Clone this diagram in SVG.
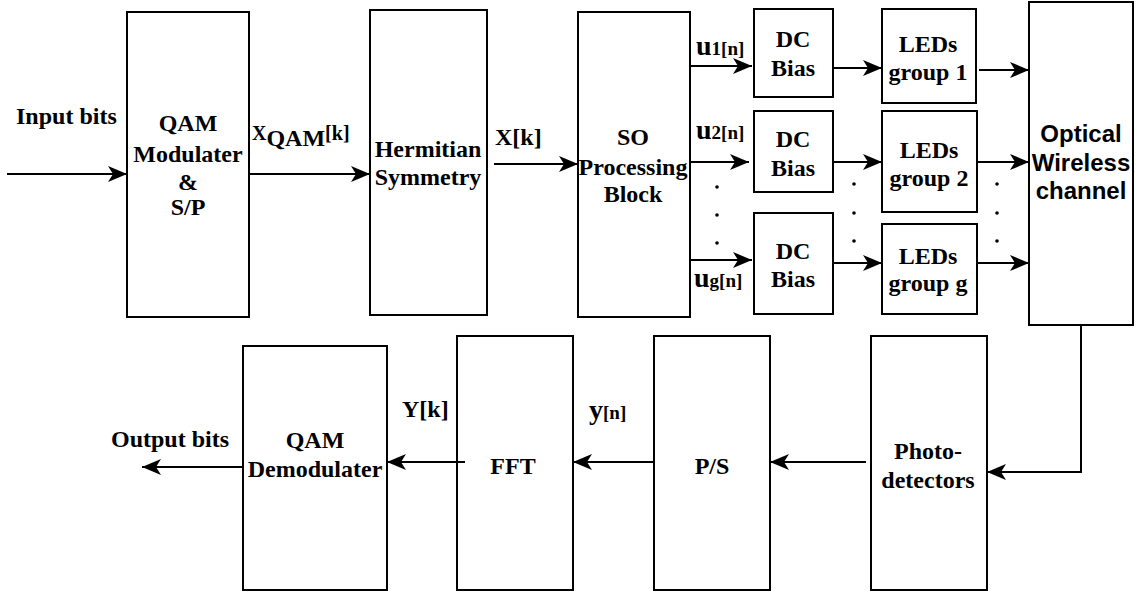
<svg xmlns="http://www.w3.org/2000/svg" width="1137" height="593" viewBox="0 0 1137 593">
<style>
.box{fill:#fff;stroke:#000;stroke-width:2}
.ln{fill:none;stroke:#000;stroke-width:2}
.t{font-family:"Liberation Serif","Times New Roman",serif;font-weight:bold;font-size:24px;fill:#000;text-anchor:middle}
.l{font-family:"Liberation Serif","Times New Roman",serif;font-weight:bold;font-size:24px;fill:#000}
.s{font-family:"Liberation Sans",Arial,sans-serif;font-weight:bold;font-size:24px;fill:#000;text-anchor:middle}
.big{font-size:28px}
.sm{font-size:19px}
.dot{fill:#000}
</style>
<defs>
<marker id="ah" markerUnits="userSpaceOnUse" markerWidth="22" markerHeight="20" viewBox="-20 -10 22 20" refX="0" refY="0" orient="auto">
<path d="M0 0 L-19 -8 L-14 0 L-19 8 Z" fill="#000"/>
</marker>
</defs>
<g id="qam-mod"><rect class="box" x="127" y="12" width="122" height="305"/>
<text class="t" x="188" y="131">QAM</text><text class="t" x="188" y="162">Modulater</text><text class="t" x="188" y="190">&amp;</text><text class="t" x="188" y="215">S/P</text></g>
<g id="hermitian"><rect class="box" x="370" y="10" width="117" height="305"/>
<text class="t" x="428" y="157">Hermitian</text><text class="t" x="428" y="185">Symmetry</text></g>
<g id="so"><rect class="box" x="578" y="12" width="112" height="305"/>
<text class="t" x="633" y="145">SO</text><text class="t" x="633" y="175">Processing</text><text class="t" x="633" y="202">Block</text></g>
<g id="dc1"><rect class="box" x="754" y="9" width="79" height="88"/>
<text class="t" x="793" y="47">DC</text><text class="t" x="793" y="76">Bias</text></g>
<g id="dc2"><rect class="box" x="754" y="111" width="79" height="81"/>
<text class="t" x="793" y="147">DC</text><text class="t" x="793" y="176">Bias</text></g>
<g id="dcg"><rect class="box" x="754" y="213" width="79" height="101"/>
<text class="t" x="793" y="259">DC</text><text class="t" x="793" y="287">Bias</text></g>
<g id="led1"><rect class="box" x="882" y="9" width="94" height="94"/>
<text class="t" x="928" y="52">LEDs</text><text class="t" x="928" y="80">group 1</text></g>
<g id="led2"><rect class="box" x="882" y="111" width="95" height="101"/>
<text class="t" x="929" y="158">LEDs</text><text class="t" x="929" y="186">group 2</text></g>
<g id="ledg"><rect class="box" x="882" y="224" width="95" height="90"/>
<text class="t" x="928" y="264">LEDs</text><text class="t" x="928" y="291">group g</text></g>
<g id="optical"><rect class="box" x="1029" y="2" width="104" height="323"/>
<text class="s" x="1081" y="142">Optical</text><text class="s" x="1081" y="171">Wireless</text><text class="s" x="1081" y="199">channel</text></g>
<g id="photo"><rect class="box" x="871" y="336" width="116" height="254"/>
<text class="t" x="928" y="459">Photo-</text><text class="t" x="928" y="488">detectors</text></g>
<g id="ps"><rect class="box" x="654" y="336" width="116" height="254"/>
<text class="t" x="712" y="474">P/S</text></g>
<g id="fft"><rect class="box" x="457" y="336" width="116" height="254"/>
<text class="t" x="513" y="474">FFT</text></g>
<g id="qam-demod"><rect class="box" x="243" y="346" width="144" height="244"/>
<text class="t" x="315" y="448">QAM</text><text class="t" x="315" y="477">Demodulater</text></g>
<g id="connectors">
<path class="ln" d="M7 174 H127" marker-end="url(#ah)"/>
<path class="ln" d="M249 174 H370" marker-end="url(#ah)"/>
<path class="ln" d="M494 164 H578" marker-end="url(#ah)"/>
<path class="ln" d="M690 66 H752" marker-end="url(#ah)"/>
<path class="ln" d="M690 162 H749" marker-end="url(#ah)"/>
<path class="ln" d="M690 260 H752" marker-end="url(#ah)"/>
<path class="ln" d="M833 68 H882" marker-end="url(#ah)"/>
<path class="ln" d="M833 162 H882" marker-end="url(#ah)"/>
<path class="ln" d="M833 263 H882" marker-end="url(#ah)"/>
<path class="ln" d="M979 70 H1029" marker-end="url(#ah)"/>
<path class="ln" d="M977 162 H1029" marker-end="url(#ah)"/>
<path class="ln" d="M977 263 H1029" marker-end="url(#ah)"/>
<path class="ln" d="M1081 325 V472 H987" marker-end="url(#ah)"/>
<path class="ln" d="M866 462 H770" marker-end="url(#ah)"/>
<path class="ln" d="M654 462 H573" marker-end="url(#ah)"/>
<path class="ln" d="M465 462 H387" marker-end="url(#ah)"/>
<path class="ln" d="M243 467 H142" marker-end="url(#ah)"/>
<circle class="dot" cx="717" cy="187" r="1.8"/><circle class="dot" cx="717" cy="215" r="1.8"/><circle class="dot" cx="717" cy="243" r="1.8"/>
<circle class="dot" cx="854" cy="184" r="1.8"/><circle class="dot" cx="854" cy="213" r="1.8"/><circle class="dot" cx="854" cy="241" r="1.8"/>
<circle class="dot" cx="997" cy="184" r="1.8"/><circle class="dot" cx="997" cy="213" r="1.8"/><circle class="dot" cx="997" cy="241" r="1.8"/>
<text class="l" x="16" y="124">Input bits</text>
<text class="l" x="252" y="140"><tspan style="font-size:20px">X</tspan><tspan dy="6" style="font-size:24px">QAM</tspan><tspan dy="-6" style="font-size:20px">[k]</tspan></text>
<text class="l" x="495" y="145">X[k]</text>
<text class="l" x="696" y="55"><tspan class="big">u</tspan><tspan class="sm">1[n]</tspan></text>
<text class="l" x="696" y="139"><tspan class="big">u</tspan><tspan class="sm">2[n]</tspan></text>
<text class="l" x="694" y="287"><tspan class="big">u</tspan><tspan class="sm">g[n]</tspan></text>
<text class="l" x="111" y="447">Output bits</text>
<text class="l" x="402" y="417">Y[k]</text>
<text class="l" x="589" y="419"><tspan class="big">y</tspan><tspan class="sm">[n]</tspan></text>
</g>
</svg>
